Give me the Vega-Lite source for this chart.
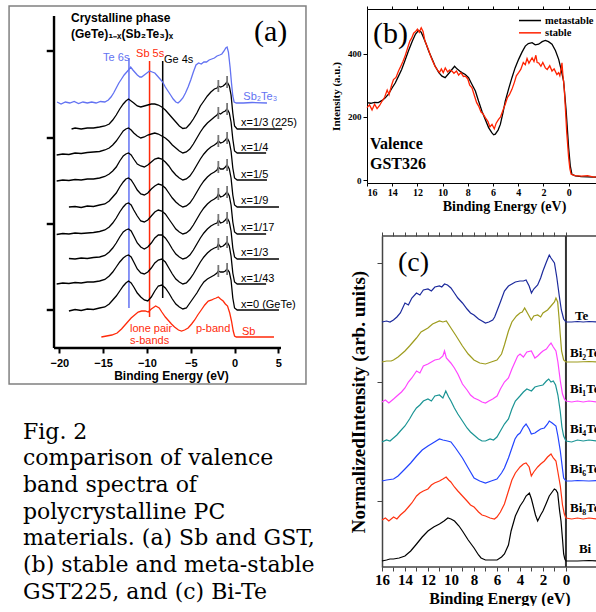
{
"$schema":"https://vega.github.io/schema/vega-lite/v6.json",
"background":"white",
"padding":{"left":8,"top":5,"right":0,"bottom":0},
"config":{"view":{"stroke":null},"axis":{"grid":false}},
"columns":2,
"spacing":15,
"align":"none",
"resolve":{"scale":{"color":"independent"}},
"datasets":{
"a_frame":[{"e":-25.73,"e2":8.15,"v":-36,"v2":342}],
"a_axes":[{"e":-20.6,"e2":-20.6,"v":0,"v2":332},{"e":-20.6,"e2":5.3,"v":0,"v2":0},{"e":-21.43,"e2":-20.6,"v":38,"v2":38},{"e":-21.43,"e2":-20.6,"v":124,"v2":124},{"e":-21.43,"e2":-20.6,"v":210,"v2":210},{"e":-21.43,"e2":-20.6,"v":297,"v2":297}],
"a_vl":[{"c":"Te 6s","e":-12.05,"v":40,"v2":290},{"c":"Sb 5s","e":-9.7,"v":31,"v2":287},{"c":"Ge 4s","e":-8.2,"v":50,"v2":287}],
"a_ticks":[{"e":-1.85,"v":256,"v2":268},{"e":-0.85,"v":260,"v2":272},{"e":-1.85,"v":229,"v2":241},{"e":-0.85,"v":233,"v2":245},{"e":-1.85,"v":201,"v2":213},{"e":-0.85,"v":204,"v2":216},{"e":-1.85,"v":175,"v2":187},{"e":-0.85,"v":177,"v2":189},{"e":-1.85,"v":148,"v2":160},{"e":-0.85,"v":150,"v2":162},{"e":-1.85,"v":122,"v2":134},{"e":-0.85,"v":124,"v2":136},{"e":-1.85,"v":98,"v2":110},{"e":-0.85,"v":100,"v2":112},{"e":-1.85,"v":71,"v2":83},{"e":-0.85,"v":73,"v2":85}],
"a_curves":[
{"c":"Sb2Te3","e":-20.25,"v":246},{"c":"Sb2Te3","e":-19.8,"v":244},{"c":"Sb2Te3","e":-19.3,"v":246},{"c":"Sb2Te3","e":-18.8,"v":245},{"c":"Sb2Te3","e":-18.3,"v":246.5},{"c":"Sb2Te3","e":-17.8,"v":244.5},{"c":"Sb2Te3","e":-17.3,"v":246},{"c":"Sb2Te3","e":-16.8,"v":245},{"c":"Sb2Te3","e":-16.3,"v":246},{"c":"Sb2Te3","e":-15.8,"v":245},{"c":"Sb2Te3","e":-15.3,"v":246.5},{"c":"Sb2Te3","e":-14.8,"v":246},{"c":"Sb2Te3","e":-14.4,"v":248},{"c":"Sb2Te3","e":-14.1,"v":251},{"c":"Sb2Te3","e":-13.8,"v":255},{"c":"Sb2Te3","e":-13.5,"v":260},{"c":"Sb2Te3","e":-13.2,"v":265},{"c":"Sb2Te3","e":-12.9,"v":269},{"c":"Sb2Te3","e":-12.6,"v":273},{"c":"Sb2Te3","e":-12.3,"v":276},{"c":"Sb2Te3","e":-12.1,"v":278},{"c":"Sb2Te3","e":-11.85,"v":281},{"c":"Sb2Te3","e":-11.6,"v":278},{"c":"Sb2Te3","e":-11.4,"v":276},{"c":"Sb2Te3","e":-11.1,"v":273},{"c":"Sb2Te3","e":-10.8,"v":271},{"c":"Sb2Te3","e":-10.6,"v":271},{"c":"Sb2Te3","e":-10.3,"v":273},{"c":"Sb2Te3","e":-10.0,"v":275},{"c":"Sb2Te3","e":-9.7,"v":277},{"c":"Sb2Te3","e":-9.4,"v":276},{"c":"Sb2Te3","e":-9.1,"v":275},{"c":"Sb2Te3","e":-8.8,"v":272},{"c":"Sb2Te3","e":-8.5,"v":269},{"c":"Sb2Te3","e":-8.2,"v":266},{"c":"Sb2Te3","e":-7.9,"v":261},{"c":"Sb2Te3","e":-7.6,"v":257},{"c":"Sb2Te3","e":-7.3,"v":253},{"c":"Sb2Te3","e":-7.0,"v":249},{"c":"Sb2Te3","e":-6.7,"v":246},{"c":"Sb2Te3","e":-6.45,"v":245},{"c":"Sb2Te3","e":-6.2,"v":247},{"c":"Sb2Te3","e":-5.9,"v":250},{"c":"Sb2Te3","e":-5.6,"v":255},{"c":"Sb2Te3","e":-5.3,"v":261},{"c":"Sb2Te3","e":-5.0,"v":268},{"c":"Sb2Te3","e":-4.7,"v":276},{"c":"Sb2Te3","e":-4.4,"v":283},{"c":"Sb2Te3","e":-4.1,"v":285},{"c":"Sb2Te3","e":-3.8,"v":284},{"c":"Sb2Te3","e":-3.5,"v":286},{"c":"Sb2Te3","e":-3.2,"v":286},{"c":"Sb2Te3","e":-2.9,"v":288},{"c":"Sb2Te3","e":-2.6,"v":289},{"c":"Sb2Te3","e":-2.3,"v":290},{"c":"Sb2Te3","e":-2.0,"v":292},{"c":"Sb2Te3","e":-1.7,"v":293},{"c":"Sb2Te3","e":-1.45,"v":294},{"c":"Sb2Te3","e":-1.2,"v":297},{"c":"Sb2Te3","e":-1.0,"v":300},{"c":"Sb2Te3","e":-0.85,"v":301},{"c":"Sb2Te3","e":-0.7,"v":296},{"c":"Sb2Te3","e":-0.5,"v":280},{"c":"Sb2Te3","e":-0.35,"v":265},{"c":"Sb2Te3","e":-0.2,"v":252},{"c":"Sb2Te3","e":-0.05,"v":246},{"c":"Sb2Te3","e":0.2,"v":245},{"c":"Sb2Te3","e":1.0,"v":245},{"c":"Sb2Te3","e":2.0,"v":245.5},{"c":"Sb2Te3","e":3.7,"v":245},
{"c":"x=1/3 (225)","e":-18.6,"v":219},{"c":"x=1/3 (225)","e":-18.2,"v":220},{"c":"x=1/3 (225)","e":-17.5,"v":219},{"c":"x=1/3 (225)","e":-16.8,"v":220},{"c":"x=1/3 (225)","e":-16.1,"v":220},{"c":"x=1/3 (225)","e":-15.4,"v":221},{"c":"x=1/3 (225)","e":-14.8,"v":222},{"c":"x=1/3 (225)","e":-14.3,"v":224},{"c":"x=1/3 (225)","e":-13.9,"v":228},{"c":"x=1/3 (225)","e":-13.5,"v":233},{"c":"x=1/3 (225)","e":-13.1,"v":239},{"c":"x=1/3 (225)","e":-12.7,"v":244},{"c":"x=1/3 (225)","e":-12.4,"v":247},{"c":"x=1/3 (225)","e":-12.1,"v":249},{"c":"x=1/3 (225)","e":-11.8,"v":247},{"c":"x=1/3 (225)","e":-11.5,"v":245},{"c":"x=1/3 (225)","e":-11.1,"v":242},{"c":"x=1/3 (225)","e":-10.7,"v":241},{"c":"x=1/3 (225)","e":-10.3,"v":242},{"c":"x=1/3 (225)","e":-9.9,"v":243},{"c":"x=1/3 (225)","e":-9.5,"v":244},{"c":"x=1/3 (225)","e":-9.1,"v":244},{"c":"x=1/3 (225)","e":-8.7,"v":243},{"c":"x=1/3 (225)","e":-8.3,"v":241},{"c":"x=1/3 (225)","e":-7.9,"v":238},{"c":"x=1/3 (225)","e":-7.5,"v":234},{"c":"x=1/3 (225)","e":-7.1,"v":230},{"c":"x=1/3 (225)","e":-6.7,"v":226},{"c":"x=1/3 (225)","e":-6.3,"v":222},{"c":"x=1/3 (225)","e":-5.9,"v":219.5},{"c":"x=1/3 (225)","e":-5.5,"v":220},{"c":"x=1/3 (225)","e":-5.1,"v":224},{"c":"x=1/3 (225)","e":-4.7,"v":229},{"c":"x=1/3 (225)","e":-4.3,"v":235},{"c":"x=1/3 (225)","e":-3.9,"v":242},{"c":"x=1/3 (225)","e":-3.5,"v":247},{"c":"x=1/3 (225)","e":-3.1,"v":252},{"c":"x=1/3 (225)","e":-2.7,"v":256},{"c":"x=1/3 (225)","e":-2.3,"v":259},{"c":"x=1/3 (225)","e":-2.0,"v":260},{"c":"x=1/3 (225)","e":-1.85,"v":262},{"c":"x=1/3 (225)","e":-1.6,"v":261},{"c":"x=1/3 (225)","e":-1.3,"v":262},{"c":"x=1/3 (225)","e":-1.05,"v":264},{"c":"x=1/3 (225)","e":-0.85,"v":266},{"c":"x=1/3 (225)","e":-0.6,"v":262},{"c":"x=1/3 (225)","e":-0.4,"v":253},{"c":"x=1/3 (225)","e":-0.2,"v":235},{"c":"x=1/3 (225)","e":0.0,"v":222},{"c":"x=1/3 (225)","e":0.3,"v":219},{"c":"x=1/3 (225)","e":5.42,"v":219},
{"c":"x=1/4","e":-20.3,"v":193},{"c":"x=1/4","e":-19.6,"v":194},{"c":"x=1/4","e":-18.9,"v":193.5},{"c":"x=1/4","e":-18.2,"v":195},{"c":"x=1/4","e":-17.5,"v":194.5},{"c":"x=1/4","e":-16.8,"v":195.5},{"c":"x=1/4","e":-16.1,"v":196},{"c":"x=1/4","e":-15.4,"v":196.5},{"c":"x=1/4","e":-14.8,"v":198},{"c":"x=1/4","e":-14.3,"v":200},{"c":"x=1/4","e":-13.9,"v":203},{"c":"x=1/4","e":-13.5,"v":207},{"c":"x=1/4","e":-13.1,"v":212},{"c":"x=1/4","e":-12.7,"v":217},{"c":"x=1/4","e":-12.4,"v":219},{"c":"x=1/4","e":-12.1,"v":220},{"c":"x=1/4","e":-11.8,"v":218},{"c":"x=1/4","e":-11.5,"v":215},{"c":"x=1/4","e":-11.1,"v":212},{"c":"x=1/4","e":-10.7,"v":210},{"c":"x=1/4","e":-10.3,"v":211},{"c":"x=1/4","e":-9.9,"v":213},{"c":"x=1/4","e":-9.5,"v":214},{"c":"x=1/4","e":-9.1,"v":215},{"c":"x=1/4","e":-8.7,"v":214},{"c":"x=1/4","e":-8.3,"v":212},{"c":"x=1/4","e":-7.9,"v":210},{"c":"x=1/4","e":-7.5,"v":207},{"c":"x=1/4","e":-7.1,"v":203},{"c":"x=1/4","e":-6.7,"v":200},{"c":"x=1/4","e":-6.3,"v":197},{"c":"x=1/4","e":-5.9,"v":195},{"c":"x=1/4","e":-5.5,"v":196},{"c":"x=1/4","e":-5.1,"v":199},{"c":"x=1/4","e":-4.7,"v":204},{"c":"x=1/4","e":-4.3,"v":210},{"c":"x=1/4","e":-3.9,"v":216},{"c":"x=1/4","e":-3.5,"v":221},{"c":"x=1/4","e":-3.1,"v":225},{"c":"x=1/4","e":-2.7,"v":228},{"c":"x=1/4","e":-2.3,"v":231},{"c":"x=1/4","e":-2.0,"v":233},{"c":"x=1/4","e":-1.85,"v":235},{"c":"x=1/4","e":-1.6,"v":234},{"c":"x=1/4","e":-1.3,"v":236},{"c":"x=1/4","e":-1.05,"v":237},{"c":"x=1/4","e":-0.85,"v":239},{"c":"x=1/4","e":-0.6,"v":235},{"c":"x=1/4","e":-0.4,"v":226},{"c":"x=1/4","e":-0.2,"v":209},{"c":"x=1/4","e":0.0,"v":197},{"c":"x=1/4","e":0.3,"v":195},{"c":"x=1/4","e":3.6,"v":195},
{"c":"x=1/5","e":-20.3,"v":167},{"c":"x=1/5","e":-19.6,"v":168},{"c":"x=1/5","e":-18.9,"v":167.5},{"c":"x=1/5","e":-18.2,"v":168.5},{"c":"x=1/5","e":-17.5,"v":168},{"c":"x=1/5","e":-16.8,"v":169},{"c":"x=1/5","e":-16.1,"v":169},{"c":"x=1/5","e":-15.4,"v":170},{"c":"x=1/5","e":-14.8,"v":171.5},{"c":"x=1/5","e":-14.3,"v":174},{"c":"x=1/5","e":-13.9,"v":177},{"c":"x=1/5","e":-13.5,"v":181},{"c":"x=1/5","e":-13.1,"v":187},{"c":"x=1/5","e":-12.7,"v":192},{"c":"x=1/5","e":-12.4,"v":194},{"c":"x=1/5","e":-12.1,"v":195},{"c":"x=1/5","e":-11.8,"v":193},{"c":"x=1/5","e":-11.5,"v":189},{"c":"x=1/5","e":-11.1,"v":184},{"c":"x=1/5","e":-10.7,"v":182},{"c":"x=1/5","e":-10.3,"v":181},{"c":"x=1/5","e":-9.9,"v":183},{"c":"x=1/5","e":-9.5,"v":186},{"c":"x=1/5","e":-9.1,"v":189},{"c":"x=1/5","e":-8.7,"v":190},{"c":"x=1/5","e":-8.3,"v":189},{"c":"x=1/5","e":-7.9,"v":186},{"c":"x=1/5","e":-7.5,"v":182},{"c":"x=1/5","e":-7.1,"v":177},{"c":"x=1/5","e":-6.7,"v":173},{"c":"x=1/5","e":-6.3,"v":170},{"c":"x=1/5","e":-5.9,"v":168},{"c":"x=1/5","e":-5.5,"v":169},{"c":"x=1/5","e":-5.1,"v":172},{"c":"x=1/5","e":-4.7,"v":177},{"c":"x=1/5","e":-4.3,"v":183},{"c":"x=1/5","e":-3.9,"v":189},{"c":"x=1/5","e":-3.5,"v":194},{"c":"x=1/5","e":-3.1,"v":198},{"c":"x=1/5","e":-2.7,"v":201},{"c":"x=1/5","e":-2.3,"v":203},{"c":"x=1/5","e":-2.0,"v":205},{"c":"x=1/5","e":-1.85,"v":207},{"c":"x=1/5","e":-1.6,"v":205},{"c":"x=1/5","e":-1.3,"v":206},{"c":"x=1/5","e":-1.05,"v":208},{"c":"x=1/5","e":-0.85,"v":210},{"c":"x=1/5","e":-0.6,"v":206},{"c":"x=1/5","e":-0.4,"v":197},{"c":"x=1/5","e":-0.2,"v":180},{"c":"x=1/5","e":0.0,"v":170},{"c":"x=1/5","e":0.3,"v":168},{"c":"x=1/5","e":3.7,"v":168},
{"c":"x=1/9","e":-18.9,"v":141},{"c":"x=1/9","e":-18.2,"v":141.5},{"c":"x=1/9","e":-17.5,"v":140.5},{"c":"x=1/9","e":-16.8,"v":142},{"c":"x=1/9","e":-16.1,"v":141.5},{"c":"x=1/9","e":-15.4,"v":143},{"c":"x=1/9","e":-14.8,"v":144},{"c":"x=1/9","e":-14.3,"v":147},{"c":"x=1/9","e":-13.9,"v":151},{"c":"x=1/9","e":-13.5,"v":155},{"c":"x=1/9","e":-13.1,"v":161},{"c":"x=1/9","e":-12.7,"v":166},{"c":"x=1/9","e":-12.4,"v":169},{"c":"x=1/9","e":-12.1,"v":170},{"c":"x=1/9","e":-11.8,"v":168},{"c":"x=1/9","e":-11.5,"v":164},{"c":"x=1/9","e":-11.1,"v":158},{"c":"x=1/9","e":-10.7,"v":154},{"c":"x=1/9","e":-10.3,"v":153},{"c":"x=1/9","e":-9.9,"v":155},{"c":"x=1/9","e":-9.5,"v":159},{"c":"x=1/9","e":-9.1,"v":162},{"c":"x=1/9","e":-8.7,"v":164},{"c":"x=1/9","e":-8.3,"v":163},{"c":"x=1/9","e":-7.9,"v":160},{"c":"x=1/9","e":-7.5,"v":155},{"c":"x=1/9","e":-7.1,"v":150},{"c":"x=1/9","e":-6.7,"v":146},{"c":"x=1/9","e":-6.3,"v":143},{"c":"x=1/9","e":-5.9,"v":141},{"c":"x=1/9","e":-5.5,"v":142},{"c":"x=1/9","e":-5.1,"v":145},{"c":"x=1/9","e":-4.7,"v":150},{"c":"x=1/9","e":-4.3,"v":156},{"c":"x=1/9","e":-3.9,"v":162},{"c":"x=1/9","e":-3.5,"v":167},{"c":"x=1/9","e":-3.1,"v":171},{"c":"x=1/9","e":-2.7,"v":174},{"c":"x=1/9","e":-2.3,"v":176},{"c":"x=1/9","e":-2.0,"v":178},{"c":"x=1/9","e":-1.85,"v":181},{"c":"x=1/9","e":-1.6,"v":179},{"c":"x=1/9","e":-1.3,"v":179},{"c":"x=1/9","e":-1.05,"v":181},{"c":"x=1/9","e":-0.85,"v":183},{"c":"x=1/9","e":-0.6,"v":179},{"c":"x=1/9","e":-0.4,"v":170},{"c":"x=1/9","e":-0.2,"v":153},{"c":"x=1/9","e":0.0,"v":143},{"c":"x=1/9","e":0.3,"v":141},{"c":"x=1/9","e":5.07,"v":141},
{"c":"x=1/17","e":-20.3,"v":113.5},{"c":"x=1/17","e":-19.6,"v":114.5},{"c":"x=1/17","e":-18.9,"v":114},{"c":"x=1/17","e":-18.2,"v":115},{"c":"x=1/17","e":-17.5,"v":114.5},{"c":"x=1/17","e":-16.8,"v":115},{"c":"x=1/17","e":-16.1,"v":115.5},{"c":"x=1/17","e":-15.4,"v":116.5},{"c":"x=1/17","e":-14.8,"v":118},{"c":"x=1/17","e":-14.3,"v":121},{"c":"x=1/17","e":-13.9,"v":125},{"c":"x=1/17","e":-13.5,"v":130},{"c":"x=1/17","e":-13.1,"v":136},{"c":"x=1/17","e":-12.7,"v":141},{"c":"x=1/17","e":-12.4,"v":144},{"c":"x=1/17","e":-12.1,"v":145},{"c":"x=1/17","e":-11.8,"v":143},{"c":"x=1/17","e":-11.5,"v":138},{"c":"x=1/17","e":-11.1,"v":132},{"c":"x=1/17","e":-10.7,"v":127},{"c":"x=1/17","e":-10.3,"v":126},{"c":"x=1/17","e":-9.9,"v":128},{"c":"x=1/17","e":-9.5,"v":132},{"c":"x=1/17","e":-9.1,"v":136},{"c":"x=1/17","e":-8.7,"v":138},{"c":"x=1/17","e":-8.3,"v":137},{"c":"x=1/17","e":-7.9,"v":134},{"c":"x=1/17","e":-7.5,"v":129},{"c":"x=1/17","e":-7.1,"v":124},{"c":"x=1/17","e":-6.7,"v":119},{"c":"x=1/17","e":-6.3,"v":116},{"c":"x=1/17","e":-5.9,"v":114},{"c":"x=1/17","e":-5.5,"v":115},{"c":"x=1/17","e":-5.1,"v":118},{"c":"x=1/17","e":-4.7,"v":123},{"c":"x=1/17","e":-4.3,"v":129},{"c":"x=1/17","e":-3.9,"v":135},{"c":"x=1/17","e":-3.5,"v":140},{"c":"x=1/17","e":-3.1,"v":144},{"c":"x=1/17","e":-2.7,"v":147},{"c":"x=1/17","e":-2.3,"v":149},{"c":"x=1/17","e":-2.0,"v":151},{"c":"x=1/17","e":-1.85,"v":154},{"c":"x=1/17","e":-1.6,"v":151},{"c":"x=1/17","e":-1.3,"v":152},{"c":"x=1/17","e":-1.05,"v":154},{"c":"x=1/17","e":-0.85,"v":156},{"c":"x=1/17","e":-0.6,"v":152},{"c":"x=1/17","e":-0.4,"v":143},{"c":"x=1/17","e":-0.2,"v":126},{"c":"x=1/17","e":0.0,"v":116},{"c":"x=1/17","e":0.3,"v":114},{"c":"x=1/17","e":3.6,"v":114},
{"c":"x=1/3","e":-18.9,"v":89.5},{"c":"x=1/3","e":-18.2,"v":89},{"c":"x=1/3","e":-17.5,"v":90},{"c":"x=1/3","e":-16.8,"v":89.5},{"c":"x=1/3","e":-16.1,"v":90.5},{"c":"x=1/3","e":-15.4,"v":91},{"c":"x=1/3","e":-14.8,"v":92.5},{"c":"x=1/3","e":-14.3,"v":96},{"c":"x=1/3","e":-13.9,"v":100},{"c":"x=1/3","e":-13.5,"v":105},{"c":"x=1/3","e":-13.1,"v":111},{"c":"x=1/3","e":-12.7,"v":116},{"c":"x=1/3","e":-12.4,"v":118},{"c":"x=1/3","e":-12.1,"v":119},{"c":"x=1/3","e":-11.8,"v":117},{"c":"x=1/3","e":-11.5,"v":112},{"c":"x=1/3","e":-11.1,"v":105},{"c":"x=1/3","e":-10.7,"v":101},{"c":"x=1/3","e":-10.3,"v":99},{"c":"x=1/3","e":-9.9,"v":101},{"c":"x=1/3","e":-9.5,"v":105},{"c":"x=1/3","e":-9.1,"v":110},{"c":"x=1/3","e":-8.7,"v":113},{"c":"x=1/3","e":-8.3,"v":113},{"c":"x=1/3","e":-7.9,"v":110},{"c":"x=1/3","e":-7.5,"v":105},{"c":"x=1/3","e":-7.1,"v":99},{"c":"x=1/3","e":-6.7,"v":94},{"c":"x=1/3","e":-6.3,"v":91},{"c":"x=1/3","e":-5.9,"v":89},{"c":"x=1/3","e":-5.5,"v":90},{"c":"x=1/3","e":-5.1,"v":93},{"c":"x=1/3","e":-4.7,"v":98},{"c":"x=1/3","e":-4.3,"v":104},{"c":"x=1/3","e":-3.9,"v":110},{"c":"x=1/3","e":-3.5,"v":115},{"c":"x=1/3","e":-3.1,"v":119},{"c":"x=1/3","e":-2.7,"v":122},{"c":"x=1/3","e":-2.3,"v":124},{"c":"x=1/3","e":-2.0,"v":125},{"c":"x=1/3","e":-1.85,"v":128},{"c":"x=1/3","e":-1.6,"v":125},{"c":"x=1/3","e":-1.3,"v":126},{"c":"x=1/3","e":-1.05,"v":128},{"c":"x=1/3","e":-0.85,"v":130},{"c":"x=1/3","e":-0.6,"v":126},{"c":"x=1/3","e":-0.4,"v":117},{"c":"x=1/3","e":-0.2,"v":100},{"c":"x=1/3","e":0.0,"v":91},{"c":"x=1/3","e":0.3,"v":89},{"c":"x=1/3","e":5.07,"v":89},
{"c":"x=1/43","e":-20.3,"v":64},{"c":"x=1/43","e":-19.6,"v":65},{"c":"x=1/43","e":-18.9,"v":64.5},{"c":"x=1/43","e":-18.2,"v":65.5},{"c":"x=1/43","e":-17.5,"v":65},{"c":"x=1/43","e":-16.8,"v":66},{"c":"x=1/43","e":-16.1,"v":66},{"c":"x=1/43","e":-15.4,"v":67},{"c":"x=1/43","e":-14.8,"v":68.5},{"c":"x=1/43","e":-14.3,"v":72},{"c":"x=1/43","e":-13.9,"v":76},{"c":"x=1/43","e":-13.5,"v":81},{"c":"x=1/43","e":-13.1,"v":86},{"c":"x=1/43","e":-12.7,"v":90},{"c":"x=1/43","e":-12.4,"v":92},{"c":"x=1/43","e":-12.1,"v":93},{"c":"x=1/43","e":-11.8,"v":91},{"c":"x=1/43","e":-11.5,"v":86},{"c":"x=1/43","e":-11.1,"v":79},{"c":"x=1/43","e":-10.7,"v":75},{"c":"x=1/43","e":-10.3,"v":74},{"c":"x=1/43","e":-9.9,"v":76},{"c":"x=1/43","e":-9.5,"v":80},{"c":"x=1/43","e":-9.1,"v":85},{"c":"x=1/43","e":-8.7,"v":88},{"c":"x=1/43","e":-8.3,"v":89},{"c":"x=1/43","e":-7.9,"v":86},{"c":"x=1/43","e":-7.5,"v":80},{"c":"x=1/43","e":-7.1,"v":74},{"c":"x=1/43","e":-6.7,"v":69},{"c":"x=1/43","e":-6.3,"v":66},{"c":"x=1/43","e":-5.9,"v":64},{"c":"x=1/43","e":-5.5,"v":65},{"c":"x=1/43","e":-5.1,"v":69},{"c":"x=1/43","e":-4.7,"v":74},{"c":"x=1/43","e":-4.3,"v":80},{"c":"x=1/43","e":-3.9,"v":86},{"c":"x=1/43","e":-3.5,"v":91},{"c":"x=1/43","e":-3.1,"v":95},{"c":"x=1/43","e":-2.7,"v":98},{"c":"x=1/43","e":-2.3,"v":100},{"c":"x=1/43","e":-2.0,"v":101},{"c":"x=1/43","e":-1.85,"v":104},{"c":"x=1/43","e":-1.6,"v":101},{"c":"x=1/43","e":-1.3,"v":102},{"c":"x=1/43","e":-1.05,"v":104},{"c":"x=1/43","e":-0.85,"v":106},{"c":"x=1/43","e":-0.6,"v":102},{"c":"x=1/43","e":-0.4,"v":92},{"c":"x=1/43","e":-0.2,"v":75},{"c":"x=1/43","e":0.0,"v":66},{"c":"x=1/43","e":0.3,"v":64},{"c":"x=1/43","e":3.6,"v":64},
{"c":"x=0 (GeTe)","e":-18.9,"v":37},{"c":"x=0 (GeTe)","e":-18.2,"v":38.5},{"c":"x=0 (GeTe)","e":-17.5,"v":37.5},{"c":"x=0 (GeTe)","e":-16.8,"v":39},{"c":"x=0 (GeTe)","e":-16.1,"v":38.5},{"c":"x=0 (GeTe)","e":-15.4,"v":40},{"c":"x=0 (GeTe)","e":-14.8,"v":41},{"c":"x=0 (GeTe)","e":-14.3,"v":44},{"c":"x=0 (GeTe)","e":-13.9,"v":48},{"c":"x=0 (GeTe)","e":-13.5,"v":52},{"c":"x=0 (GeTe)","e":-13.1,"v":57},{"c":"x=0 (GeTe)","e":-12.7,"v":62},{"c":"x=0 (GeTe)","e":-12.4,"v":65},{"c":"x=0 (GeTe)","e":-12.1,"v":67},{"c":"x=0 (GeTe)","e":-11.8,"v":65},{"c":"x=0 (GeTe)","e":-11.5,"v":61},{"c":"x=0 (GeTe)","e":-11.1,"v":55},{"c":"x=0 (GeTe)","e":-10.7,"v":51},{"c":"x=0 (GeTe)","e":-10.3,"v":48},{"c":"x=0 (GeTe)","e":-9.9,"v":47},{"c":"x=0 (GeTe)","e":-9.5,"v":51},{"c":"x=0 (GeTe)","e":-9.1,"v":57},{"c":"x=0 (GeTe)","e":-8.7,"v":62},{"c":"x=0 (GeTe)","e":-8.3,"v":63},{"c":"x=0 (GeTe)","e":-7.9,"v":60},{"c":"x=0 (GeTe)","e":-7.5,"v":55},{"c":"x=0 (GeTe)","e":-7.1,"v":49},{"c":"x=0 (GeTe)","e":-6.7,"v":44},{"c":"x=0 (GeTe)","e":-6.3,"v":41},{"c":"x=0 (GeTe)","e":-5.9,"v":39},{"c":"x=0 (GeTe)","e":-5.5,"v":40},{"c":"x=0 (GeTe)","e":-5.1,"v":45},{"c":"x=0 (GeTe)","e":-4.7,"v":50},{"c":"x=0 (GeTe)","e":-4.3,"v":55},{"c":"x=0 (GeTe)","e":-3.9,"v":61},{"c":"x=0 (GeTe)","e":-3.5,"v":66},{"c":"x=0 (GeTe)","e":-3.1,"v":69},{"c":"x=0 (GeTe)","e":-2.7,"v":71},{"c":"x=0 (GeTe)","e":-2.3,"v":73},{"c":"x=0 (GeTe)","e":-2.0,"v":75},{"c":"x=0 (GeTe)","e":-1.85,"v":77},{"c":"x=0 (GeTe)","e":-1.6,"v":76},{"c":"x=0 (GeTe)","e":-1.3,"v":76},{"c":"x=0 (GeTe)","e":-1.05,"v":77},{"c":"x=0 (GeTe)","e":-0.85,"v":79},{"c":"x=0 (GeTe)","e":-0.6,"v":76},{"c":"x=0 (GeTe)","e":-0.4,"v":68},{"c":"x=0 (GeTe)","e":-0.2,"v":50},{"c":"x=0 (GeTe)","e":0.0,"v":40},{"c":"x=0 (GeTe)","e":0.3,"v":38},{"c":"x=0 (GeTe)","e":5.07,"v":38},
{"c":"Sb","e":-15.2,"v":11},{"c":"Sb","e":-14.6,"v":12},{"c":"Sb","e":-14.0,"v":13},{"c":"Sb","e":-13.4,"v":15},{"c":"Sb","e":-12.9,"v":19},{"c":"Sb","e":-12.3,"v":25},{"c":"Sb","e":-11.8,"v":30},{"c":"Sb","e":-11.4,"v":33},{"c":"Sb","e":-11.0,"v":36},{"c":"Sb","e":-10.6,"v":37},{"c":"Sb","e":-10.2,"v":37},{"c":"Sb","e":-9.85,"v":36},{"c":"Sb","e":-9.5,"v":39},{"c":"Sb","e":-9.0,"v":42},{"c":"Sb","e":-8.6,"v":40},{"c":"Sb","e":-8.3,"v":36},{"c":"Sb","e":-7.9,"v":31},{"c":"Sb","e":-7.6,"v":28},{"c":"Sb","e":-7.2,"v":24},{"c":"Sb","e":-6.85,"v":21},{"c":"Sb","e":-6.4,"v":18},{"c":"Sb","e":-6.05,"v":17},{"c":"Sb","e":-5.7,"v":18},{"c":"Sb","e":-5.3,"v":20},{"c":"Sb","e":-4.9,"v":24},{"c":"Sb","e":-4.55,"v":28},{"c":"Sb","e":-4.2,"v":33},{"c":"Sb","e":-3.8,"v":38},{"c":"Sb","e":-3.4,"v":43},{"c":"Sb","e":-3.0,"v":47},{"c":"Sb","e":-2.6,"v":48},{"c":"Sb","e":-2.4,"v":49},{"c":"Sb","e":-2.1,"v":50},{"c":"Sb","e":-1.85,"v":51},{"c":"Sb","e":-1.6,"v":49},{"c":"Sb","e":-1.3,"v":47},{"c":"Sb","e":-1.05,"v":44},{"c":"Sb","e":-0.8,"v":42},{"c":"Sb","e":-0.55,"v":35},{"c":"Sb","e":-0.35,"v":27},{"c":"Sb","e":-0.15,"v":17},{"c":"Sb","e":0.0,"v":12},{"c":"Sb","e":0.2,"v":11},{"c":"Sb","e":4.5,"v":11}
],
"a_lab":[{"c":"Sb2Te3","t":"Sb₂Te₃","e":1.0,"v":251},{"c":"x=1/3 (225)","t":"x=1/3 (225)","e":0.74,"v":225},{"c":"x=1/4","t":"x=1/4","e":0.74,"v":200},{"c":"x=1/5","t":"x=1/5","e":0.74,"v":173},{"c":"x=1/9","t":"x=1/9","e":0.74,"v":147},{"c":"x=1/17","t":"x=1/17","e":0.74,"v":120},{"c":"x=1/3","t":"x=1/3","e":0.74,"v":95},{"c":"x=1/43","t":"x=1/43","e":0.74,"v":69},{"c":"x=0 (GeTe)","t":"x=0  (GeTe)","e":0.74,"v":43},{"c":"Sb","t":"Sb","e":0.85,"v":16},{"c":"Te 6s","t":"Te 6s","e":-15.0,"v":290},{"c":"Sb 5s","t":"Sb 5s","e":-11.24,"v":294},{"c":"Ge 4s","t":"Ge 4s","e":-8.05,"v":288},{"c":"Sb","t":"lone pair","e":-11.93,"v":19},{"c":"Sb","t":"s-bands","e":-11.93,"v":7},{"c":"Sb","t":"p-band","e":-4.4,"v":19}],
"a_title":[{"t":"Crystalline phase","e":-18.66,"v":330},{"t":"(GeTe)₁₋ₓ(Sb₂Te₃)ₓ","e":-18.66,"v":314}],
"a_big":[{"t":"(a)","e":2.22,"v":316}],
"a_cap":[{"t":"Fig. 2","e":-24.14,"v":-91},{"t":"comparison of valence","e":-24.14,"v":-117},{"t":"band spectra of","e":-24.14,"v":-144},{"t":"polycrystalline PC","e":-24.14,"v":-171},{"t":"materials. (a) Sb and GST,","e":-24.14,"v":-197},{"t":"(b) stable and meta-stable","e":-24.14,"v":-224},{"t":"GST225, and (c) Bi-Te","e":-24.14,"v":-251}],
"b_curves":[
{"c":"metastable","e":16.0,"v":245},{"c":"metastable","e":15.7,"v":243},{"c":"metastable","e":15.4,"v":246},{"c":"metastable","e":15.1,"v":245},{"c":"metastable","e":14.8,"v":252},{"c":"metastable","e":14.55,"v":260},{"c":"metastable","e":14.3,"v":272},{"c":"metastable","e":14.0,"v":292},{"c":"metastable","e":13.75,"v":308},{"c":"metastable","e":13.5,"v":329},{"c":"metastable","e":13.25,"v":350},{"c":"metastable","e":13.0,"v":377},{"c":"metastable","e":12.7,"v":410},{"c":"metastable","e":12.4,"v":440},{"c":"metastable","e":12.15,"v":462},{"c":"metastable","e":11.9,"v":474},{"c":"metastable","e":11.7,"v":468},{"c":"metastable","e":11.5,"v":450},{"c":"metastable","e":11.3,"v":430},{"c":"metastable","e":11.1,"v":408},{"c":"metastable","e":10.85,"v":385},{"c":"metastable","e":10.6,"v":361},{"c":"metastable","e":10.3,"v":340},{"c":"metastable","e":10.05,"v":329},{"c":"metastable","e":9.8,"v":324},{"c":"metastable","e":9.5,"v":338},{"c":"metastable","e":9.26,"v":350},{"c":"metastable","e":9.05,"v":360},{"c":"metastable","e":8.86,"v":352},{"c":"metastable","e":8.65,"v":345},{"c":"metastable","e":8.47,"v":340},{"c":"metastable","e":8.2,"v":334},{"c":"metastable","e":7.94,"v":324},{"c":"metastable","e":7.7,"v":305},{"c":"metastable","e":7.4,"v":282},{"c":"metastable","e":7.15,"v":250},{"c":"metastable","e":6.88,"v":218},{"c":"metastable","e":6.6,"v":190},{"c":"metastable","e":6.35,"v":166},{"c":"metastable","e":6.1,"v":150},{"c":"metastable","e":5.95,"v":143},{"c":"metastable","e":5.82,"v":145},{"c":"metastable","e":5.6,"v":158},{"c":"metastable","e":5.42,"v":176},{"c":"metastable","e":5.2,"v":215},{"c":"metastable","e":5.03,"v":250},{"c":"metastable","e":4.75,"v":290},{"c":"metastable","e":4.5,"v":324},{"c":"metastable","e":4.25,"v":355},{"c":"metastable","e":3.97,"v":382},{"c":"metastable","e":3.7,"v":405},{"c":"metastable","e":3.44,"v":424},{"c":"metastable","e":3.2,"v":432},{"c":"metastable","e":2.9,"v":435},{"c":"metastable","e":2.65,"v":428},{"c":"metastable","e":2.38,"v":430},{"c":"metastable","e":2.1,"v":438},{"c":"metastable","e":1.85,"v":442},{"c":"metastable","e":1.6,"v":438},{"c":"metastable","e":1.32,"v":430},{"c":"metastable","e":1.05,"v":410},{"c":"metastable","e":0.79,"v":382},{"c":"metastable","e":0.6,"v":350},{"c":"metastable","e":0.4,"v":313},{"c":"metastable","e":0.2,"v":220},{"c":"metastable","e":0.0,"v":102},{"c":"metastable","e":-0.13,"v":45},{"c":"metastable","e":-0.26,"v":18},{"c":"metastable","e":-0.53,"v":13},{"c":"metastable","e":-1.0,"v":11},{"c":"metastable","e":-1.5,"v":10},{"c":"metastable","e":-2.0,"v":9},{"c":"metastable","e":-2.25,"v":9},
{"c":"stable","e":16.0,"v":229},{"c":"stable","e":15.8,"v":238},{"c":"stable","e":15.6,"v":222},{"c":"stable","e":15.4,"v":240},{"c":"stable","e":15.2,"v":226},{"c":"stable","e":15.0,"v":236},{"c":"stable","e":14.8,"v":250},{"c":"stable","e":14.6,"v":262},{"c":"stable","e":14.4,"v":285},{"c":"stable","e":14.25,"v":270},{"c":"stable","e":14.05,"v":300},{"c":"stable","e":13.9,"v":318},{"c":"stable","e":13.7,"v":325},{"c":"stable","e":13.5,"v":345},{"c":"stable","e":13.3,"v":362},{"c":"stable","e":13.15,"v":375},{"c":"stable","e":13.0,"v":390},{"c":"stable","e":12.8,"v":415},{"c":"stable","e":12.6,"v":440},{"c":"stable","e":12.45,"v":450},{"c":"stable","e":12.3,"v":465},{"c":"stable","e":12.15,"v":470},{"c":"stable","e":12.0,"v":478},{"c":"stable","e":11.85,"v":468},{"c":"stable","e":11.7,"v":482},{"c":"stable","e":11.55,"v":470},{"c":"stable","e":11.4,"v":440},{"c":"stable","e":11.25,"v":425},{"c":"stable","e":11.1,"v":410},{"c":"stable","e":10.95,"v":392},{"c":"stable","e":10.8,"v":378},{"c":"stable","e":10.6,"v":360},{"c":"stable","e":10.4,"v":348},{"c":"stable","e":10.25,"v":340},{"c":"stable","e":10.1,"v":352},{"c":"stable","e":9.95,"v":340},{"c":"stable","e":9.79,"v":355},{"c":"stable","e":9.6,"v":342},{"c":"stable","e":9.45,"v":348},{"c":"stable","e":9.26,"v":345},{"c":"stable","e":9.1,"v":338},{"c":"stable","e":8.9,"v":345},{"c":"stable","e":8.73,"v":332},{"c":"stable","e":8.55,"v":340},{"c":"stable","e":8.35,"v":328},{"c":"stable","e":8.2,"v":329},{"c":"stable","e":8.0,"v":320},{"c":"stable","e":7.85,"v":300},{"c":"stable","e":7.67,"v":292},{"c":"stable","e":7.5,"v":270},{"c":"stable","e":7.3,"v":245},{"c":"stable","e":7.14,"v":234},{"c":"stable","e":6.95,"v":215},{"c":"stable","e":6.8,"v":210},{"c":"stable","e":6.6,"v":197},{"c":"stable","e":6.4,"v":185},{"c":"stable","e":6.25,"v":168},{"c":"stable","e":6.08,"v":176},{"c":"stable","e":5.9,"v":162},{"c":"stable","e":5.75,"v":180},{"c":"stable","e":5.56,"v":192},{"c":"stable","e":5.4,"v":200},{"c":"stable","e":5.2,"v":222},{"c":"stable","e":5.03,"v":240},{"c":"stable","e":4.85,"v":262},{"c":"stable","e":4.7,"v":270},{"c":"stable","e":4.5,"v":287},{"c":"stable","e":4.3,"v":310},{"c":"stable","e":4.15,"v":330},{"c":"stable","e":3.97,"v":340},{"c":"stable","e":3.8,"v":350},{"c":"stable","e":3.6,"v":372},{"c":"stable","e":3.44,"v":365},{"c":"stable","e":3.3,"v":385},{"c":"stable","e":3.15,"v":370},{"c":"stable","e":2.9,"v":387},{"c":"stable","e":2.75,"v":375},{"c":"stable","e":2.6,"v":395},{"c":"stable","e":2.5,"v":372},{"c":"stable","e":2.38,"v":371},{"c":"stable","e":2.2,"v":360},{"c":"stable","e":2.05,"v":372},{"c":"stable","e":1.85,"v":355},{"c":"stable","e":1.7,"v":350},{"c":"stable","e":1.5,"v":362},{"c":"stable","e":1.32,"v":345},{"c":"stable","e":1.15,"v":352},{"c":"stable","e":0.93,"v":334},{"c":"stable","e":0.8,"v":340},{"c":"stable","e":0.7,"v":330},{"c":"stable","e":0.6,"v":350},{"c":"stable","e":0.53,"v":371},{"c":"stable","e":0.45,"v":330},{"c":"stable","e":0.35,"v":290},{"c":"stable","e":0.26,"v":229},{"c":"stable","e":0.15,"v":150},{"c":"stable","e":0.0,"v":71},{"c":"stable","e":-0.1,"v":35},{"c":"stable","e":-0.2,"v":18},{"c":"stable","e":-0.5,"v":14},{"c":"stable","e":-1.0,"v":12},{"c":"stable","e":-1.5,"v":14},{"c":"stable","e":-2.0,"v":9},{"c":"stable","e":-2.25,"v":10}
],
"b_leg":[{"c":"metastable","e":3.94,"e2":2.19,"v":505},{"c":"stable","e":3.94,"e2":2.19,"v":466}],
"b_legt":[{"t":"metastable","e":1.87,"v":505},{"t":"stable","e":1.87,"v":466}],
"b_big":[{"t":"(b)","e":15.52,"v":462}],
"b_val":[{"t":"Valence","e":15.76,"v":114},{"t":"GST326","e":15.76,"v":51}],
"c_h":[{"e":16,"e2":-2.7,"v":0},{"e":16,"e2":-2.7,"v":331}],
"c_v":[{"e":0,"v":0,"v2":331}],
"c_curves":[
{"c":"Te","e":16.0,"v":245},{"c":"Te","e":15.6,"v":246},{"c":"Te","e":15.3,"v":245},{"c":"Te","e":15.0,"v":247},{"c":"Te","e":14.7,"v":250},{"c":"Te","e":14.4,"v":254},{"c":"Te","e":14.0,"v":264},{"c":"Te","e":13.7,"v":262},{"c":"Te","e":13.4,"v":269},{"c":"Te","e":13.0,"v":274},{"c":"Te","e":12.7,"v":272},{"c":"Te","e":12.4,"v":277},{"c":"Te","e":12.0,"v":278},{"c":"Te","e":11.7,"v":276},{"c":"Te","e":11.4,"v":280},{"c":"Te","e":11.0,"v":281},{"c":"Te","e":10.8,"v":280},{"c":"Te","e":10.56,"v":283},{"c":"Te","e":10.3,"v":282},{"c":"Te","e":10.0,"v":279},{"c":"Te","e":9.7,"v":274},{"c":"Te","e":9.4,"v":269},{"c":"Te","e":9.0,"v":264},{"c":"Te","e":8.6,"v":258},{"c":"Te","e":8.3,"v":254},{"c":"Te","e":8.0,"v":252},{"c":"Te","e":7.6,"v":248},{"c":"Te","e":7.3,"v":246},{"c":"Te","e":7.0,"v":244},{"c":"Te","e":6.7,"v":245},{"c":"Te","e":6.37,"v":247},{"c":"Te","e":6.2,"v":250},{"c":"Te","e":6.0,"v":256},{"c":"Te","e":5.7,"v":265},{"c":"Te","e":5.35,"v":276},{"c":"Te","e":5.0,"v":281},{"c":"Te","e":4.7,"v":283},{"c":"Te","e":4.4,"v":285},{"c":"Te","e":4.0,"v":286},{"c":"Te","e":3.7,"v":286},{"c":"Te","e":3.47,"v":287},{"c":"Te","e":3.2,"v":281},{"c":"Te","e":3.0,"v":274},{"c":"Te","e":2.8,"v":278},{"c":"Te","e":2.46,"v":282},{"c":"Te","e":2.2,"v":289},{"c":"Te","e":2.0,"v":296},{"c":"Te","e":1.7,"v":305},{"c":"Te","e":1.45,"v":312},{"c":"Te","e":1.3,"v":309},{"c":"Te","e":1.0,"v":304},{"c":"Te","e":0.8,"v":290},{"c":"Te","e":0.58,"v":271},{"c":"Te","e":0.4,"v":257},{"c":"Te","e":0.2,"v":248},{"c":"Te","e":0.0,"v":245},{"c":"Te","e":-0.5,"v":245},{"c":"Te","e":-1.0,"v":245.5},{"c":"Te","e":-1.5,"v":245},{"c":"Te","e":-2.0,"v":245.5},{"c":"Te","e":-2.7,"v":245},
{"c":"Bi2Te3","e":16.0,"v":205},{"c":"Bi2Te3","e":15.6,"v":206},{"c":"Bi2Te3","e":15.2,"v":206},{"c":"Bi2Te3","e":15.0,"v":207},{"c":"Bi2Te3","e":14.6,"v":210},{"c":"Bi2Te3","e":14.0,"v":216},{"c":"Bi2Te3","e":13.6,"v":221},{"c":"Bi2Te3","e":13.0,"v":229},{"c":"Bi2Te3","e":12.6,"v":235},{"c":"Bi2Te3","e":12.0,"v":239},{"c":"Bi2Te3","e":11.6,"v":243},{"c":"Bi2Te3","e":11.0,"v":246},{"c":"Bi2Te3","e":10.7,"v":245},{"c":"Bi2Te3","e":10.4,"v":246},{"c":"Bi2Te3","e":10.0,"v":239},{"c":"Bi2Te3","e":9.6,"v":232},{"c":"Bi2Te3","e":9.0,"v":221},{"c":"Bi2Te3","e":8.5,"v":213},{"c":"Bi2Te3","e":8.0,"v":207},{"c":"Bi2Te3","e":7.5,"v":204},{"c":"Bi2Te3","e":7.0,"v":203},{"c":"Bi2Te3","e":6.5,"v":205},{"c":"Bi2Te3","e":6.0,"v":207},{"c":"Bi2Te3","e":5.6,"v":213},{"c":"Bi2Te3","e":5.35,"v":222},{"c":"Bi2Te3","e":5.0,"v":236},{"c":"Bi2Te3","e":4.7,"v":245},{"c":"Bi2Te3","e":4.3,"v":251},{"c":"Bi2Te3","e":4.0,"v":254},{"c":"Bi2Te3","e":3.8,"v":255},{"c":"Bi2Te3","e":3.59,"v":259},{"c":"Bi2Te3","e":3.3,"v":253},{"c":"Bi2Te3","e":3.01,"v":247},{"c":"Bi2Te3","e":2.8,"v":251},{"c":"Bi2Te3","e":2.46,"v":252},{"c":"Bi2Te3","e":2.2,"v":250},{"c":"Bi2Te3","e":2.0,"v":254},{"c":"Bi2Te3","e":1.6,"v":257},{"c":"Bi2Te3","e":1.3,"v":261},{"c":"Bi2Te3","e":1.0,"v":265},{"c":"Bi2Te3","e":0.87,"v":269},{"c":"Bi2Te3","e":0.72,"v":265},{"c":"Bi2Te3","e":0.6,"v":249},{"c":"Bi2Te3","e":0.5,"v":233},{"c":"Bi2Te3","e":0.38,"v":216},{"c":"Bi2Te3","e":0.2,"v":207},{"c":"Bi2Te3","e":0.0,"v":205},{"c":"Bi2Te3","e":-1.0,"v":205},{"c":"Bi2Te3","e":-2.0,"v":205.5},{"c":"Bi2Te3","e":-2.7,"v":205},
{"c":"Bi1Te1","e":16.0,"v":165},{"c":"Bi1Te1","e":15.7,"v":167},{"c":"Bi1Te1","e":15.4,"v":164},{"c":"Bi1Te1","e":14.99,"v":168},{"c":"Bi1Te1","e":14.6,"v":172},{"c":"Bi1Te1","e":14.3,"v":175},{"c":"Bi1Te1","e":14.0,"v":179},{"c":"Bi1Te1","e":13.7,"v":185},{"c":"Bi1Te1","e":13.4,"v":189},{"c":"Bi1Te1","e":12.99,"v":196},{"c":"Bi1Te1","e":12.7,"v":194},{"c":"Bi1Te1","e":12.4,"v":201},{"c":"Bi1Te1","e":12.0,"v":203},{"c":"Bi1Te1","e":11.7,"v":205},{"c":"Bi1Te1","e":11.4,"v":207},{"c":"Bi1Te1","e":11.0,"v":208},{"c":"Bi1Te1","e":10.7,"v":211},{"c":"Bi1Te1","e":10.56,"v":216},{"c":"Bi1Te1","e":10.4,"v":209},{"c":"Bi1Te1","e":10.01,"v":204},{"c":"Bi1Te1","e":9.7,"v":199},{"c":"Bi1Te1","e":9.4,"v":193},{"c":"Bi1Te1","e":9.0,"v":183},{"c":"Bi1Te1","e":8.6,"v":177},{"c":"Bi1Te1","e":8.3,"v":172},{"c":"Bi1Te1","e":7.99,"v":169},{"c":"Bi1Te1","e":7.6,"v":167},{"c":"Bi1Te1","e":7.3,"v":165},{"c":"Bi1Te1","e":7.0,"v":164},{"c":"Bi1Te1","e":6.7,"v":166},{"c":"Bi1Te1","e":6.37,"v":168},{"c":"Bi1Te1","e":5.99,"v":171},{"c":"Bi1Te1","e":5.7,"v":178},{"c":"Bi1Te1","e":5.35,"v":185},{"c":"Bi1Te1","e":5.0,"v":189},{"c":"Bi1Te1","e":4.7,"v":198},{"c":"Bi1Te1","e":4.43,"v":205},{"c":"Bi1Te1","e":4.2,"v":211},{"c":"Bi1Te1","e":3.99,"v":213},{"c":"Bi1Te1","e":3.7,"v":210},{"c":"Bi1Te1","e":3.4,"v":215},{"c":"Bi1Te1","e":3.01,"v":216},{"c":"Bi1Te1","e":2.7,"v":209},{"c":"Bi1Te1","e":2.46,"v":211},{"c":"Bi1Te1","e":2.2,"v":214},{"c":"Bi1Te1","e":2.0,"v":216},{"c":"Bi1Te1","e":1.7,"v":218},{"c":"Bi1Te1","e":1.45,"v":222},{"c":"Bi1Te1","e":1.3,"v":224},{"c":"Bi1Te1","e":1.1,"v":220},{"c":"Bi1Te1","e":0.87,"v":216},{"c":"Bi1Te1","e":0.7,"v":205},{"c":"Bi1Te1","e":0.49,"v":186},{"c":"Bi1Te1","e":0.3,"v":173},{"c":"Bi1Te1","e":0.14,"v":168},{"c":"Bi1Te1","e":0.0,"v":166},{"c":"Bi1Te1","e":-0.5,"v":165},{"c":"Bi1Te1","e":-1.0,"v":166},{"c":"Bi1Te1","e":-1.5,"v":165},{"c":"Bi1Te1","e":-2.0,"v":166},{"c":"Bi1Te1","e":-2.7,"v":165},
{"c":"Bi4Te3","e":16.0,"v":125},{"c":"Bi4Te3","e":15.6,"v":127},{"c":"Bi4Te3","e":15.3,"v":126},{"c":"Bi4Te3","e":15.0,"v":129},{"c":"Bi4Te3","e":14.7,"v":132},{"c":"Bi4Te3","e":14.4,"v":136},{"c":"Bi4Te3","e":14.0,"v":141},{"c":"Bi4Te3","e":13.6,"v":148},{"c":"Bi4Te3","e":13.3,"v":154},{"c":"Bi4Te3","e":13.0,"v":159},{"c":"Bi4Te3","e":12.7,"v":162},{"c":"Bi4Te3","e":12.4,"v":166},{"c":"Bi4Te3","e":12.0,"v":168},{"c":"Bi4Te3","e":11.7,"v":166},{"c":"Bi4Te3","e":11.4,"v":171},{"c":"Bi4Te3","e":11.0,"v":172},{"c":"Bi4Te3","e":10.7,"v":169},{"c":"Bi4Te3","e":10.45,"v":176},{"c":"Bi4Te3","e":10.2,"v":170},{"c":"Bi4Te3","e":10.0,"v":166},{"c":"Bi4Te3","e":9.7,"v":159},{"c":"Bi4Te3","e":9.4,"v":153},{"c":"Bi4Te3","e":9.0,"v":146},{"c":"Bi4Te3","e":8.6,"v":139},{"c":"Bi4Te3","e":8.3,"v":135},{"c":"Bi4Te3","e":8.0,"v":132},{"c":"Bi4Te3","e":7.6,"v":128},{"c":"Bi4Te3","e":7.3,"v":126},{"c":"Bi4Te3","e":7.0,"v":126},{"c":"Bi4Te3","e":6.6,"v":128},{"c":"Bi4Te3","e":6.3,"v":127},{"c":"Bi4Te3","e":6.0,"v":130},{"c":"Bi4Te3","e":5.7,"v":136},{"c":"Bi4Te3","e":5.35,"v":143},{"c":"Bi4Te3","e":5.0,"v":148},{"c":"Bi4Te3","e":4.7,"v":158},{"c":"Bi4Te3","e":4.4,"v":166},{"c":"Bi4Te3","e":4.0,"v":171},{"c":"Bi4Te3","e":3.7,"v":175},{"c":"Bi4Te3","e":3.4,"v":178},{"c":"Bi4Te3","e":3.0,"v":176},{"c":"Bi4Te3","e":2.7,"v":180},{"c":"Bi4Te3","e":2.4,"v":181},{"c":"Bi4Te3","e":2.0,"v":182},{"c":"Bi4Te3","e":1.7,"v":186},{"c":"Bi4Te3","e":1.5,"v":188},{"c":"Bi4Te3","e":1.3,"v":185},{"c":"Bi4Te3","e":1.1,"v":186},{"c":"Bi4Te3","e":0.9,"v":182},{"c":"Bi4Te3","e":0.7,"v":172},{"c":"Bi4Te3","e":0.5,"v":156},{"c":"Bi4Te3","e":0.35,"v":140},{"c":"Bi4Te3","e":0.2,"v":131},{"c":"Bi4Te3","e":0.0,"v":126},{"c":"Bi4Te3","e":-0.5,"v":125},{"c":"Bi4Te3","e":-1.0,"v":127},{"c":"Bi4Te3","e":-1.5,"v":126},{"c":"Bi4Te3","e":-2.0,"v":127},{"c":"Bi4Te3","e":-2.7,"v":126},
{"c":"Bi6Te","e":16.0,"v":86},{"c":"Bi6Te","e":15.6,"v":87},{"c":"Bi6Te","e":14.99,"v":88},{"c":"Bi6Te","e":14.6,"v":91},{"c":"Bi6Te","e":14.0,"v":98},{"c":"Bi6Te","e":13.5,"v":104},{"c":"Bi6Te","e":12.99,"v":111},{"c":"Bi6Te","e":12.5,"v":117},{"c":"Bi6Te","e":12.0,"v":121},{"c":"Bi6Te","e":11.43,"v":125},{"c":"Bi6Te","e":11.0,"v":128},{"c":"Bi6Te","e":10.7,"v":127},{"c":"Bi6Te","e":10.3,"v":126},{"c":"Bi6Te","e":10.0,"v":125},{"c":"Bi6Te","e":9.6,"v":119},{"c":"Bi6Te","e":9.0,"v":109},{"c":"Bi6Te","e":8.5,"v":99},{"c":"Bi6Te","e":7.99,"v":89},{"c":"Bi6Te","e":7.5,"v":86},{"c":"Bi6Te","e":7.0,"v":84},{"c":"Bi6Te","e":6.5,"v":86},{"c":"Bi6Te","e":6.0,"v":88},{"c":"Bi6Te","e":5.6,"v":94},{"c":"Bi6Te","e":5.35,"v":99},{"c":"Bi6Te","e":5.0,"v":109},{"c":"Bi6Te","e":4.7,"v":119},{"c":"Bi6Te","e":4.43,"v":128},{"c":"Bi6Te","e":4.2,"v":132},{"c":"Bi6Te","e":3.99,"v":134},{"c":"Bi6Te","e":3.7,"v":140},{"c":"Bi6Te","e":3.47,"v":143},{"c":"Bi6Te","e":3.2,"v":138},{"c":"Bi6Te","e":3.01,"v":133},{"c":"Bi6Te","e":2.7,"v":134},{"c":"Bi6Te","e":2.46,"v":136},{"c":"Bi6Te","e":2.2,"v":138},{"c":"Bi6Te","e":1.88,"v":139},{"c":"Bi6Te","e":1.6,"v":143},{"c":"Bi6Te","e":1.45,"v":146},{"c":"Bi6Te","e":1.2,"v":144},{"c":"Bi6Te","e":0.87,"v":141},{"c":"Bi6Te","e":0.7,"v":131},{"c":"Bi6Te","e":0.49,"v":116},{"c":"Bi6Te","e":0.3,"v":98},{"c":"Bi6Te","e":0.2,"v":89},{"c":"Bi6Te","e":0.0,"v":86},{"c":"Bi6Te","e":-0.5,"v":86},{"c":"Bi6Te","e":-1.0,"v":86.5},{"c":"Bi6Te","e":-2.0,"v":86},{"c":"Bi6Te","e":-2.7,"v":86.5},
{"c":"Bi8Te","e":16.0,"v":47},{"c":"Bi8Te","e":15.7,"v":49},{"c":"Bi8Te","e":15.4,"v":46},{"c":"Bi8Te","e":14.99,"v":50},{"c":"Bi8Te","e":14.7,"v":48},{"c":"Bi8Te","e":14.4,"v":52},{"c":"Bi8Te","e":14.0,"v":56},{"c":"Bi8Te","e":13.7,"v":60},{"c":"Bi8Te","e":13.4,"v":64},{"c":"Bi8Te","e":12.99,"v":71},{"c":"Bi8Te","e":12.7,"v":74},{"c":"Bi8Te","e":12.4,"v":76},{"c":"Bi8Te","e":12.0,"v":78},{"c":"Bi8Te","e":11.7,"v":82},{"c":"Bi8Te","e":11.43,"v":84},{"c":"Bi8Te","e":11.0,"v":86},{"c":"Bi8Te","e":10.7,"v":88},{"c":"Bi8Te","e":10.42,"v":90},{"c":"Bi8Te","e":10.2,"v":87},{"c":"Bi8Te","e":10.01,"v":85},{"c":"Bi8Te","e":9.7,"v":80},{"c":"Bi8Te","e":9.4,"v":76},{"c":"Bi8Te","e":9.0,"v":71},{"c":"Bi8Te","e":8.6,"v":66},{"c":"Bi8Te","e":8.3,"v":62},{"c":"Bi8Te","e":7.99,"v":60},{"c":"Bi8Te","e":7.6,"v":55},{"c":"Bi8Te","e":7.3,"v":52},{"c":"Bi8Te","e":7.0,"v":51},{"c":"Bi8Te","e":6.6,"v":49},{"c":"Bi8Te","e":6.22,"v":48},{"c":"Bi8Te","e":6.0,"v":50},{"c":"Bi8Te","e":5.7,"v":55},{"c":"Bi8Te","e":5.35,"v":63},{"c":"Bi8Te","e":5.0,"v":76},{"c":"Bi8Te","e":4.7,"v":87},{"c":"Bi8Te","e":4.4,"v":94},{"c":"Bi8Te","e":3.99,"v":100},{"c":"Bi8Te","e":3.7,"v":103},{"c":"Bi8Te","e":3.47,"v":104},{"c":"Bi8Te","e":3.2,"v":100},{"c":"Bi8Te","e":3.01,"v":91},{"c":"Bi8Te","e":2.8,"v":95},{"c":"Bi8Te","e":2.46,"v":100},{"c":"Bi8Te","e":2.2,"v":103},{"c":"Bi8Te","e":1.88,"v":106},{"c":"Bi8Te","e":1.6,"v":110},{"c":"Bi8Te","e":1.3,"v":113},{"c":"Bi8Te","e":1.1,"v":109},{"c":"Bi8Te","e":0.87,"v":106},{"c":"Bi8Te","e":0.7,"v":95},{"c":"Bi8Te","e":0.49,"v":81},{"c":"Bi8Te","e":0.3,"v":62},{"c":"Bi8Te","e":0.14,"v":53},{"c":"Bi8Te","e":0.0,"v":49},{"c":"Bi8Te","e":-0.5,"v":48},{"c":"Bi8Te","e":-1.0,"v":49},{"c":"Bi8Te","e":-1.5,"v":48},{"c":"Bi8Te","e":-2.0,"v":49},{"c":"Bi8Te","e":-2.7,"v":48},
{"c":"Bi","e":16.0,"v":6},{"c":"Bi","e":15.6,"v":7},{"c":"Bi","e":15.3,"v":8},{"c":"Bi","e":15.0,"v":8},{"c":"Bi","e":14.5,"v":9},{"c":"Bi","e":14.0,"v":11},{"c":"Bi","e":13.5,"v":16},{"c":"Bi","e":12.99,"v":23},{"c":"Bi","e":12.5,"v":30},{"c":"Bi","e":12.0,"v":36},{"c":"Bi","e":11.5,"v":40},{"c":"Bi","e":11.0,"v":43},{"c":"Bi","e":10.6,"v":46},{"c":"Bi","e":10.27,"v":49},{"c":"Bi","e":10.0,"v":48},{"c":"Bi","e":9.69,"v":46},{"c":"Bi","e":9.3,"v":41},{"c":"Bi","e":9.0,"v":36},{"c":"Bi","e":8.5,"v":27},{"c":"Bi","e":7.99,"v":19},{"c":"Bi","e":7.6,"v":12},{"c":"Bi","e":7.38,"v":9},{"c":"Bi","e":7.0,"v":7},{"c":"Bi","e":6.5,"v":7},{"c":"Bi","e":5.99,"v":7},{"c":"Bi","e":5.6,"v":10},{"c":"Bi","e":5.35,"v":13},{"c":"Bi","e":5.0,"v":22},{"c":"Bi","e":4.77,"v":36},{"c":"Bi","e":4.4,"v":51},{"c":"Bi","e":3.99,"v":61},{"c":"Bi","e":3.7,"v":66},{"c":"Bi","e":3.47,"v":71},{"c":"Bi","e":3.18,"v":74},{"c":"Bi","e":3.0,"v":68},{"c":"Bi","e":2.89,"v":63},{"c":"Bi","e":2.65,"v":52},{"c":"Bi","e":2.46,"v":46},{"c":"Bi","e":2.2,"v":52},{"c":"Bi","e":2.0,"v":56},{"c":"Bi","e":1.7,"v":64},{"c":"Bi","e":1.45,"v":71},{"c":"Bi","e":1.2,"v":75},{"c":"Bi","e":1.01,"v":78},{"c":"Bi","e":0.87,"v":77},{"c":"Bi","e":0.72,"v":74},{"c":"Bi","e":0.55,"v":56},{"c":"Bi","e":0.43,"v":46},{"c":"Bi","e":0.3,"v":28},{"c":"Bi","e":0.2,"v":13},{"c":"Bi","e":0.1,"v":8},{"c":"Bi","e":0.0,"v":6},{"c":"Bi","e":-1.0,"v":6},{"c":"Bi","e":-2.0,"v":6.5},{"c":"Bi","e":-2.7,"v":6}
],
"c_lab":[{"t":"Te","e":-0.78,"v":251},{"t":"Bi₂Te₃","e":-0.35,"v":214},{"t":"Bi₁Te₁","e":-0.35,"v":178},{"t":"Bi₄Te₃","e":-0.35,"v":138},{"t":"Bi₆Te","e":-0.35,"v":98},{"t":"Bi₈Te","e":-0.35,"v":59},{"t":"Bi","e":-1.13,"v":18}],
"c_big":[{"t":"(c)","e":14.6,"v":304}]
},
"concat":[
{
"width":236,"height":339,
"encoding":{
"x":{"field":"e","type":"quantitative","scale":{"domain":[-21.63,5.3],"nice":false,"zero":false},"axis":{"values":[-20,-15,-10,-5,0,5],"title":"Binding Energy  (eV)","domain":false,"labelFont":"Liberation Sans","labelFontWeight":"bold","labelFontSize":11,"labelColor":"#000","labelPadding":4,"titleFont":"Liberation Sans","titleFontWeight":"bold","titleFontSize":12,"titleColor":"#000","titlePadding":2,"titleX":126,"tickColor":"#000","tickWidth":2,"tickSize":5}},
"y":{"field":"v","type":"quantitative","scale":{"domain":[0,339],"nice":false,"zero":false},"axis":null}
},
"layer":[
{"data":{"name":"a_frame"},"mark":{"type":"rect","filled":false,"stroke":"#808080","strokeWidth":1.5},"encoding":{"x2":{"field":"e2"},"y2":{"field":"v2"}}},
{"data":{"name":"a_vl"},"mark":{"type":"rule","strokeWidth":1.5},"encoding":{"y2":{"field":"v2"},"color":{"field":"c","type":"nominal","legend":null,"scale":{"domain":["Sb2Te3","x=1/3 (225)","x=1/4","x=1/5","x=1/9","x=1/17","x=1/3","x=1/43","x=0 (GeTe)","Sb","Te 6s","Sb 5s","Ge 4s"],"range":["#6272f2","#000000","#000000","#000000","#000000","#000000","#000000","#000000","#000000","#ff2a0a","#6272f2","#ff2a0a","#000000"]}}}},
{"data":{"name":"a_curves"},"mark":{"type":"line","strokeWidth":1.3},"encoding":{"color":{"field":"c","type":"nominal","legend":null,"scale":{"domain":["Sb2Te3","x=1/3 (225)","x=1/4","x=1/5","x=1/9","x=1/17","x=1/3","x=1/43","x=0 (GeTe)","Sb","Te 6s","Sb 5s","Ge 4s"],"range":["#6272f2","#000000","#000000","#000000","#000000","#000000","#000000","#000000","#000000","#ff2a0a","#6272f2","#ff2a0a","#000000"]}}}},
{"data":{"name":"a_ticks"},"mark":{"type":"rule","color":"#777777","strokeWidth":1.8},"encoding":{"y2":{"field":"v2"}}},
{"data":{"name":"a_lab"},"mark":{"type":"text","align":"left","baseline":"middle","font":"Liberation Sans","fontSize":11},"encoding":{"text":{"field":"t"},"color":{"field":"c","type":"nominal","legend":null,"scale":{"domain":["Sb2Te3","x=1/3 (225)","x=1/4","x=1/5","x=1/9","x=1/17","x=1/3","x=1/43","x=0 (GeTe)","Sb","Te 6s","Sb 5s","Ge 4s"],"range":["#6272f2","#000000","#000000","#000000","#000000","#000000","#000000","#000000","#000000","#ff2a0a","#6272f2","#ff2a0a","#000000"]}}}},
{"data":{"name":"a_title"},"mark":{"type":"text","align":"left","baseline":"middle","font":"Liberation Sans","fontSize":12,"fontWeight":"bold","color":"#000"},"encoding":{"text":{"field":"t"}}},
{"data":{"name":"a_big"},"mark":{"type":"text","align":"left","baseline":"middle","font":"Liberation Serif","fontSize":30,"color":"#000"},"encoding":{"text":{"field":"t"}}},
{"data":{"name":"a_cap"},"mark":{"type":"text","align":"left","baseline":"alphabetic","font":"DejaVu Serif","fontSize":22,"color":"#000"},"encoding":{"text":{"field":"t"}}},
{"data":{"name":"a_axes"},"mark":{"type":"rule","color":"#000000","strokeWidth":2.4},"encoding":{"x2":{"field":"e2"},"y2":{"field":"v2"}}}
]
},
{
"spacing":18,
"resolve":{"scale":{"color":"independent"}},
"vconcat":[
{
"width":230,"height":174,
"resolve":{"axis":{"x":"independent"}},
"encoding":{
"x":{"field":"e","type":"quantitative","scale":{"domain":[16,-2.25],"nice":false,"zero":false},"axis":null},
"y":{"field":"v","type":"quantitative","scale":{"domain":[-9.5,541.5],"nice":false,"zero":false},"axis":{"values":[0,200,400],"title":"Intensity (a.u.)","labelFont":"Liberation Serif","labelFontWeight":"bold","labelFontSize":9,"labelColor":"#000","labelPadding":2,"titleFont":"Liberation Serif","titleFontWeight":"bold","titleFontSize":11,"titleColor":"#000","titlePadding":6,"domainColor":"#000","tickColor":"#000","tickSize":4}}
},
"layer":[
{"data":{"name":"b_curves"},"mark":{"type":"line","strokeWidth":1.3},"encoding":{"x":{"field":"e","type":"quantitative","scale":{"domain":[16,-2.25],"nice":false,"zero":false},"axis":{"values":[16,14,12,10,8,6,4,2,0],"title":"Binding Energy (eV)","titleX":137,"labelFont":"Liberation Serif","labelFontWeight":"bold","labelFontSize":10,"labelColor":"#000","labelPadding":1,"titleFont":"Liberation Serif","titleFontWeight":"bold","titleFontSize":14,"titleColor":"#000","titlePadding":2,"domainColor":"#000","tickColor":"#000","tickSize":3}},"color":{"field":"c","type":"nominal","legend":null,"scale":{"domain":["metastable","stable"],"range":["#000000","#ff2200"]}}}},
{"data":{"name":"b_leg"},"mark":{"type":"rule","strokeWidth":1.5},"encoding":{"x2":{"field":"e2"},"color":{"field":"c","type":"nominal","legend":null,"scale":{"domain":["metastable","stable"],"range":["#000000","#ff2200"]}}}},
{"data":{"name":"b_legt"},"mark":{"type":"text","align":"left","baseline":"middle","font":"Liberation Serif","fontWeight":"bold","fontSize":10.5,"color":"#000","clip":true},"encoding":{"x":{"field":"e","type":"quantitative","scale":{"domain":[16,-2.25],"nice":false,"zero":false},"axis":{"orient":"top","values":[16,14,12,10,8,6,4,2,0],"labels":false,"title":null,"domainColor":"#000","tickColor":"#000","tickSize":3}},"text":{"field":"t"}}},
{"data":{"name":"b_big"},"mark":{"type":"text","align":"left","baseline":"middle","font":"Liberation Serif","fontSize":30,"color":"#000"},"encoding":{"text":{"field":"t"}}},
{"data":{"name":"b_val"},"mark":{"type":"text","align":"left","baseline":"middle","font":"Liberation Serif","fontWeight":"bold","fontSize":16,"color":"#000"},"encoding":{"text":{"field":"t"}}}
]
},
{
"width":230,"height":331,
"resolve":{"axis":{"x":"independent"}},
"encoding":{
"x":{"field":"e","type":"quantitative","scale":{"domain":[17.3,-2.7],"nice":false,"zero":false},"axis":null},
"y":{"field":"v","type":"quantitative","scale":{"domain":[0,331],"nice":false,"zero":false},"axis":{"offset":-15,"values":[66,185,304],"labels":false,"title":"NormalizedIntensity (arb. units)","titleFont":"Liberation Serif","titleFontWeight":"bold","titleFontSize":19,"titleColor":"#000","titlePadding":8,"domainColor":"#444","domainWidth":1.5,"tickColor":"#444","tickSize":5}}
},
"layer":[
{"data":{"name":"c_h"},"mark":{"type":"rule","color":"#444","strokeWidth":1.5},"encoding":{"x2":{"field":"e2"}}},
{"data":{"name":"c_v"},"mark":{"type":"rule","color":"#333","strokeWidth":2},"encoding":{"y2":{"field":"v2"}}},
{"data":{"name":"c_curves"},"mark":{"type":"line","strokeWidth":1.2},"encoding":{"x":{"field":"e","type":"quantitative","scale":{"domain":[17.3,-2.7],"nice":false,"zero":false},"axis":{"values":[16,15,14,13,12,11,10,9,8,7,6,5,4,3,2,1,0],"labelExpr":"datum.value % 2 === 0 ? datum.label : ''","domain":false,"title":"Binding Energy (eV)","titleX":132.5,"labelFont":"Liberation Serif","labelFontWeight":"bold","labelFontSize":15,"labelColor":"#000","labelPadding":1,"titleFont":"Liberation Serif","titleFontWeight":"bold","titleFontSize":16,"titleColor":"#000","titlePadding":3,"tickColor":"#444","tickSize":4}},"color":{"field":"c","type":"nominal","legend":null,"scale":{"domain":["Te","Bi2Te3","Bi1Te1","Bi4Te3","Bi6Te","Bi8Te","Bi"],"range":["#1c2a9c","#9e9c1e","#ff44ff","#1a9494","#2244ff","#ff3311","#000000"]}}}},
{"data":{"name":"c_lab"},"mark":{"type":"text","align":"left","baseline":"middle","font":"Liberation Serif","fontWeight":"bold","fontSize":13,"color":"#000","clip":true},"encoding":{"x":{"field":"e","type":"quantitative","scale":{"domain":[17.3,-2.7],"nice":false,"zero":false},"axis":{"orient":"top","values":[16,15,14,13,12,11,10,9,8,7,6,5,4,3,2,1,0],"labels":false,"domain":false,"title":null,"tickColor":"#444","tickSize":4}},"text":{"field":"t"}}},
{"data":{"name":"c_big"},"mark":{"type":"text","align":"left","baseline":"middle","font":"Liberation Serif","fontSize":28,"color":"#000"},"encoding":{"text":{"field":"t"}}}
]
}
]
}
]
}
